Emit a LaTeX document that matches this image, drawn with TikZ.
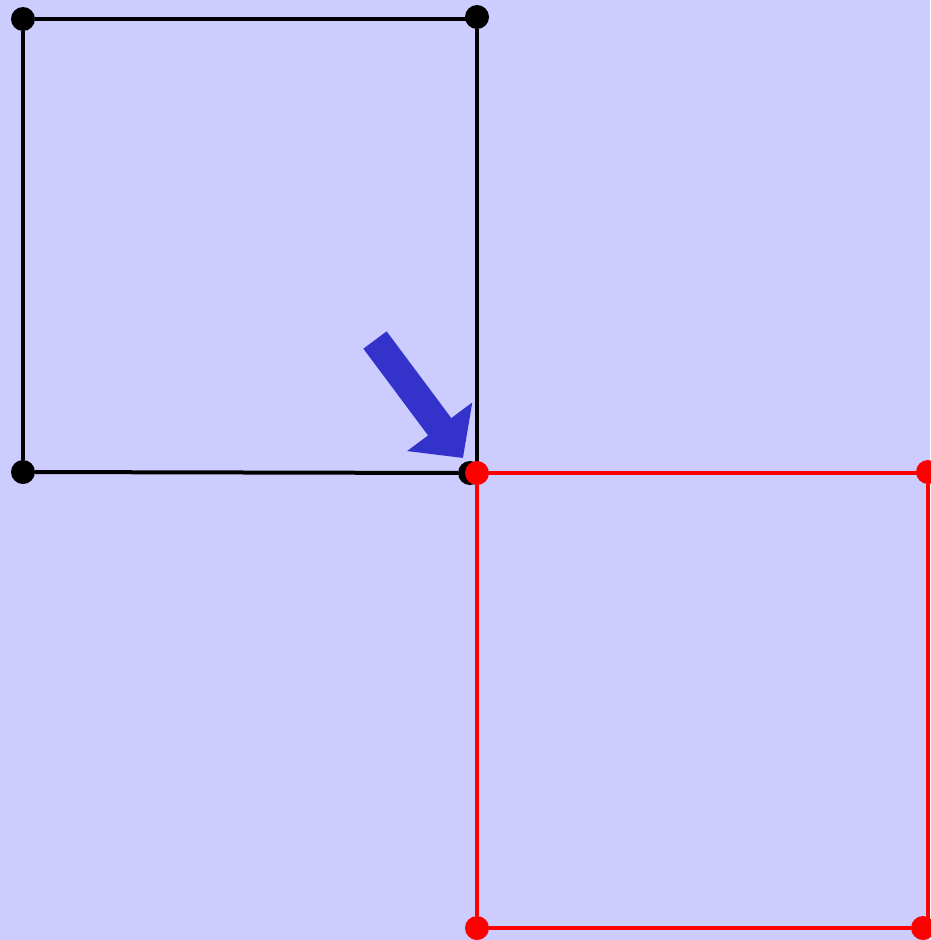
\documentclass[tikz,border=0pt]{standalone}
\usepackage{tikz}
\usetikzlibrary{arrows.meta,calc}
\definecolor{bgblue}{RGB}{204,204,255}
\definecolor{arrowblue}{RGB}{51,51,204}

\begin{document}
\begin{tikzpicture}[
    x=1pt, y=-1pt,
    corner/.style={circle, fill=black, minimum size=24pt, inner sep=0pt},
    redcorner/.style={corner, fill=red},
    side/.style={line width=4pt, black},
    redside/.style={side, red},
    bigarrow/.style={line width=29pt, arrowblue, -{Triangle[length=39pt, width=79pt]}}
]
    \fill[bgblue] (0,0) rectangle (930,940);
    \useasboundingbox (0,0) rectangle (930,940);

    % black square
    \node[corner] (tl) at (23,19) {};
    \node[corner] (tr) at (477,17) {};
    \node[corner] (bl) at (23,472) {};
    \node[corner] (br) at (470,473) {};
    \draw[side] (tl) -- (tr.center |- tl.center);
    \draw[side] (tl) -- (bl);
    \draw[side] (bl) -- (br);
    \draw[side] (tr) -- (tr.center |- br.center);

    % red square
    \node[redcorner] (rtl) at (477,473) {};
    \node[redcorner] (rtr) at (928,472) {};
    \node[redcorner] (rbl) at (477,928) {};
    \node[redcorner] (rbr) at (923,928) {};
    \draw[redside] (rtl) -- (rtr.center |- rtl.center);
    \draw[redside] (rtl) -- (rbl);
    \draw[redside] (rbl) -- (rbr);
    \draw[redside] (rtr) -- (rtr.center |- rbr.center);

    % arrow
    \coordinate (tail) at (375,340);
    \coordinate (tip) at (463,458);
    \draw[bigarrow] (tail) -- (tip);
\end{tikzpicture}
\end{document}
